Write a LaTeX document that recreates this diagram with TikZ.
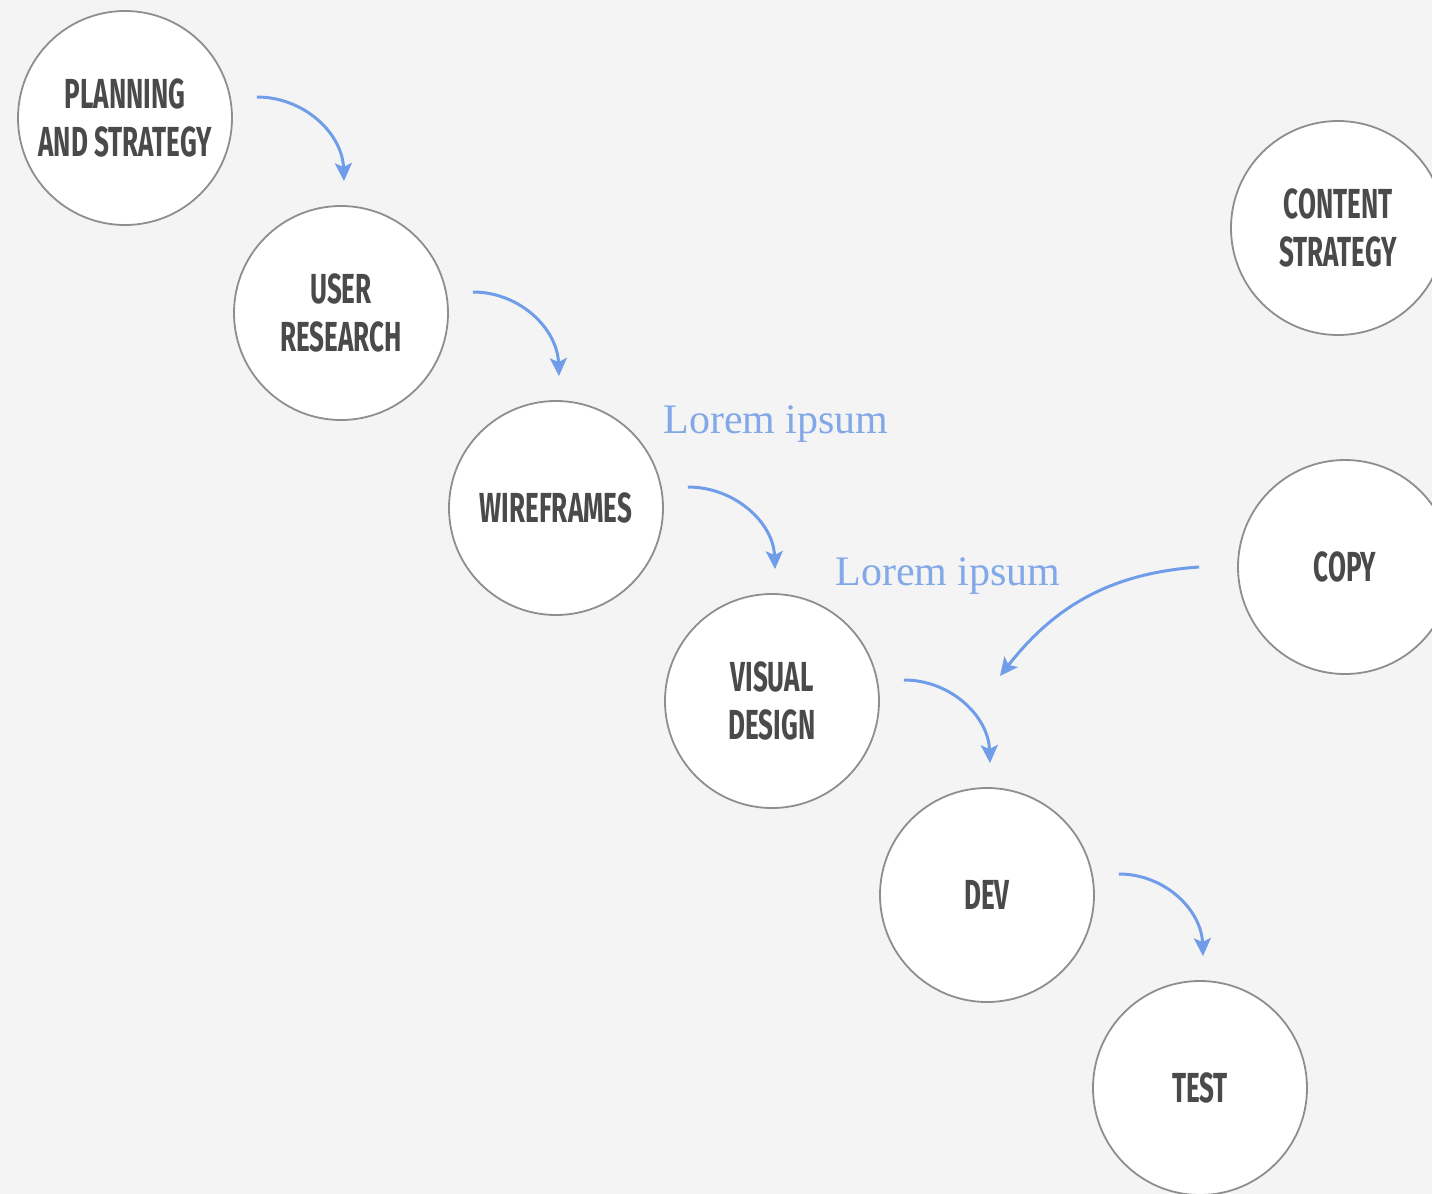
\documentclass[tikz,border=0pt]{standalone}
\usepackage{fontspec}
\setsansfont{Fira Sans}[FakeStretch=0.62]
\newfontfamily\notefont{Liberation Serif}
\usetikzlibrary{arrows.meta}
\definecolor{bggray}{HTML}{F4F4F4}
\definecolor{ringgray}{HTML}{8E8E8E}
\definecolor{labelgray}{HTML}{4A4A4A}
\definecolor{flowblue}{HTML}{6F9DE9}
\definecolor{noteblue}{HTML}{82A8E8}
\tikzset{
	stage/.style={circle, draw=ringgray, line width=0.9pt, fill=white, minimum size=107pt, inner sep=0pt, align=center, text=labelgray, font=\sffamily\bfseries\fontsize{21}{24}\selectfont},
	flow/.style={-{Stealth[length=9pt,width=8.5pt,inset=2pt]}, flowblue, line width=1.5pt},
	note/.style={anchor=west, inner sep=0pt, text=noteblue, font=\notefont\fontsize{21}{24}\selectfont}
}
\begin{document}
\begin{tikzpicture}[x=0.5pt, y=0.5pt]
			%background
			\useasboundingbox (0,0) rectangle (1432,-1194);
			\fill[bggray] (0,0) rectangle (1432,-1194);
			\clip (0,0) rectangle (1432,-1194);
			
			%main stages
			\node[stage] (plan) at (125,-118) {PLANNING\\AND STRATEGY};
			\node[stage] (user) at (341,-313) {USER\\RESEARCH};
			\node[stage] (wire) at (556,-508) {WIREFRAMES};
			\node[stage] (visual) at (772,-701) {VISUAL\\DESIGN};
			\node[stage] (dev) at (987,-895) {DEV};
			\node[stage] (test) at (1200,-1088) {TEST};
			
			%side stages
			\node[stage] (content) at (1338,-228) {CONTENT\\STRATEGY};
			\node[stage] (copy) at (1345,-567) {COPY};
			
			%notes
			\node[note] (lorem1) at (663,-424) {Lorem ipsum};
			\node[note] (lorem2) at (835,-576) {Lorem ipsum};
			
			%arrows
			\foreach \a/\b in {plan/user, user/wire, wire/visual, visual/dev, dev/test}{
				\draw[flow] ([xshift=12pt, yshift=10.5pt]\a.east) to[out=0, in=92] ([xshift=1.5pt, yshift=12pt]\b.north);
			}
			\coordinate (copytip) at (1000,-676);
			\draw[flow] ([xshift=-19pt]copy.west) to[out=184, in=52] (copytip);
		\end{tikzpicture}
\end{document}
